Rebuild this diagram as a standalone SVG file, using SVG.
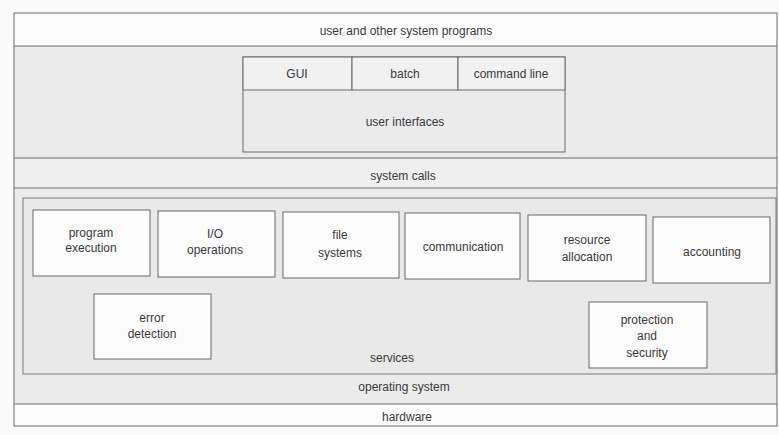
<svg xmlns="http://www.w3.org/2000/svg" width="779" height="435" viewBox="0 0 779 435">
<style>
text{font-family:"Liberation Sans",Arial,sans-serif;font-size:12px;fill:#3a3a3a;text-anchor:middle}
.ln{stroke:#6a6a6a;stroke-width:1;fill:none}
.band{fill:#ebebeb}
.cell{fill:#f1f1f1;stroke:#6a6a6a;stroke-width:1}
.svc{fill:#fcfcfc;stroke:#6a6a6a;stroke-width:1}
</style>
<rect x="0" y="0" width="779" height="435" fill="#fbfbfb"/>
<g id="hardware">
<rect x="14" y="404" width="763" height="22" fill="#fdfdfd"/>
<text x="407" y="421">hardware</text>
</g>
<g id="operating-system">
<rect x="14" y="188" width="763" height="216" class="band"/>
<text x="404" y="391">operating system</text>
</g>
<g id="system-calls">
<rect x="14" y="158" width="763" height="30" fill="#efefef"/>
<text x="403" y="180">system calls</text>
</g>
<g id="user-programs">
<rect x="14" y="13" width="763" height="33" fill="#fdfdfd"/>
<rect x="14" y="46" width="763" height="112" class="band"/>
<text x="406" y="35">user and other system programs</text>
</g>
<g id="user-interfaces">
<rect x="243" y="57" width="322" height="95" class="band" stroke="#6a6a6a"/>
<rect x="243" y="57" width="109" height="33" class="cell"/>
<rect x="352" y="57" width="106" height="33" class="cell"/>
<rect x="458" y="57" width="107" height="33" class="cell"/>
<text x="297" y="78">GUI</text>
<text x="405" y="78">batch</text>
<text x="511" y="78">command line</text>
<text x="405" y="126">user interfaces</text>
</g>
<g id="services">
<rect x="23" y="198" width="753" height="176" fill="#e9e9e9" stroke="#7a7a7a" stroke-width="1"/>
<text x="392" y="362">services</text>
</g>
<g id="program-execution">
<rect x="33" y="210" width="117" height="66" class="svc"/>
<text x="91" y="237">program</text><text x="91" y="252">execution</text>
</g>
<g id="io-operations">
<rect x="158" y="211" width="117" height="66" class="svc"/>
<text x="215" y="238">I/O</text><text x="215" y="254">operations</text>
</g>
<g id="file-systems">
<rect x="283" y="212" width="116" height="66" class="svc"/>
<text x="340" y="239">file</text><text x="340" y="257">systems</text>
</g>
<g id="communication">
<rect x="405" y="213" width="115" height="66" class="svc"/>
<text x="463" y="251">communication</text>
</g>
<g id="resource-allocation">
<rect x="528" y="215" width="118" height="66" class="svc"/>
<text x="587" y="244">resource</text><text x="587" y="261">allocation</text>
</g>
<g id="accounting">
<rect x="653" y="217" width="117" height="66" class="svc"/>
<text x="712" y="256">accounting</text>
</g>
<g id="error-detection">
<rect x="94" y="294" width="117" height="65" class="svc"/>
<text x="152" y="322">error</text><text x="152" y="338">detection</text>
</g>
<g id="protection-security">
<rect x="589" y="302" width="118" height="66" class="svc"/>
<text x="647" y="324">protection</text><text x="647" y="340">and</text><text x="647" y="357">security</text>
</g>
<g id="connectors">
<rect x="14" y="13" width="763" height="413" class="ln"/>
<line x1="14" y1="46" x2="777" y2="46" class="ln"/>
<line x1="14" y1="158" x2="777" y2="158" class="ln"/>
<line x1="14" y1="188" x2="777" y2="188" class="ln"/>
<line x1="14" y1="404" x2="777" y2="404" class="ln"/>
</g>
</svg>
